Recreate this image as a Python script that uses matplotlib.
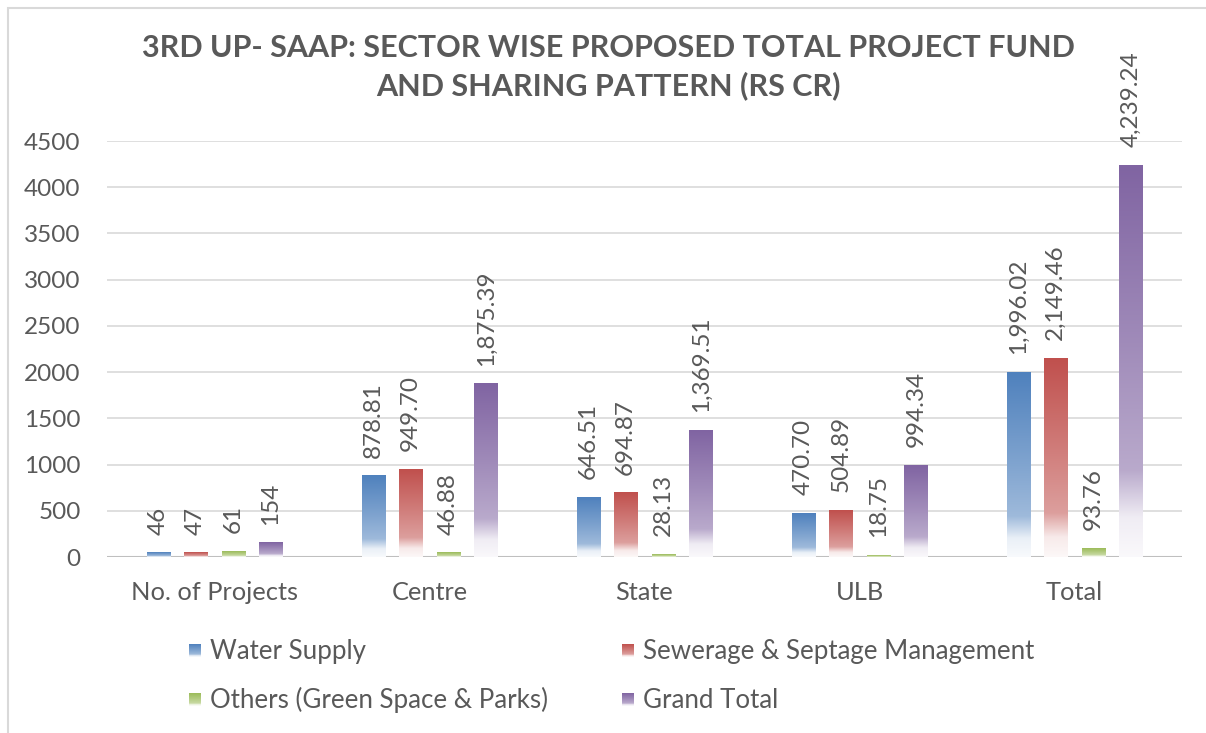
import numpy as np
import matplotlib
matplotlib.use("Agg")
import matplotlib.pyplot as plt
from matplotlib.colors import LinearSegmentedColormap, to_rgb
from matplotlib.patches import Rectangle

plt.rcParams['font.family'] = ['Lato', 'DejaVu Sans']

# ---- data ----
categories = ['No. of Projects', 'Centre', 'State', 'ULB', 'Total']
series_names = ['Water Supply', 'Sewerage & Septage Management',
                'Others (Green Space & Parks)', 'Grand Total']
water_supply = [46, 878.81, 646.51, 470.70, 1996.02]
sewerage = [47, 949.70, 694.87, 504.89, 2149.46]
others = [61, 46.88, 28.13, 18.75, 93.76]
grand_total = [154, 1875.39, 1369.51, 994.34, 4239.24]
series_values = [water_supply, sewerage, others, grand_total]
series_colors = ['#4F81BD', '#C0504D', '#9BBB59', '#8064A2']
y_ticks = [0, 500, 1000, 1500, 2000, 2500, 3000, 3500, 4000, 4500]

TEXT = '#595959'
W, H = 1206, 733


def fmt(v, is_count):
    # first category holds project counts, shown without decimals
    return f'{int(v)}' if is_count else f'{v:,.2f}'


def grad_cmap(c):
    r = np.array(to_rgb(c))
    wh = np.ones(3)
    mix = lambda t: tuple(r * (1 - t) + wh * t)
    return LinearSegmentedColormap.from_list(
        'g', [(0.0, mix(0.96)), (0.10, mix(0.88)), (0.22, mix(0.45)),
              (0.55, mix(0.25)), (1.0, mix(0.0))])


grad = np.linspace(0, 1, 256).reshape(-1, 1)

fig = plt.figure(figsize=(W / 100, H / 100), dpi=100)
fig.patch.set_facecolor('white')

# chart border (left and top edges only visible)
fig.patches.append(Rectangle((8 / W, -0.05), 1.1, 1 - 8 / H + 0.05,
                             transform=fig.transFigure, fill=False,
                             edgecolor='#D9D9D9', lw=1.5))

ax = fig.add_axes([107 / W, 1 - 557 / H, (1182 - 107) / W, (557 - 141) / H])

step = 0.175
bw = 0.107
x = np.arange(len(categories))
for i, (vals, col) in enumerate(zip(series_values, series_colors)):
    cm = grad_cmap(col)
    off = (i - 1.5) * step
    for xi, v in zip(x, vals):
        x0 = xi + off - bw / 2
        ax.imshow(grad, cmap=cm, origin='lower', aspect='auto',
                  extent=[x0, x0 + bw, 0, v], zorder=3, interpolation='bilinear')
        ax.annotate(fmt(v, xi == 0), (xi + off, v), xytext=(0, 13),
                    textcoords='offset points', rotation=90, ha='center',
                    va='bottom', fontsize=17.5, color=TEXT, annotation_clip=False)

ax.set_xlim(-0.5, len(categories) - 0.5)
ax.set_ylim(0, 4500)
ax.set_yticks(y_ticks)
ax.set_yticklabels([str(t) for t in y_ticks])
ax.set_xticks(x)
ax.set_xticklabels(categories)
ax.tick_params(axis='both', length=0, labelsize=17.5, labelcolor=TEXT)
ax.tick_params(axis='x', labelsize=18.3, pad=17)
ax.tick_params(axis='y', pad=19)
for s in ax.spines.values():
    s.set_visible(False)
ax.grid(axis='y', color='#D9D9D9', lw=1.2, zorder=0)
ax.axhline(0, color='#BFBFBF', lw=1.5, zorder=2)
ax.set_axisbelow(True)

# title
fig.text(608 / W, 1 - 67 / H,
         '3RD UP- SAAP: SECTOR WISE PROPOSED TOTAL PROJECT FUND\nAND SHARING PATTERN (RS CR)',
         ha='center', va='center', fontsize=22, fontweight='bold', color=TEXT,
         linespacing=1.35)

# legend (manual, gradient markers)
leg_pos = [(189, 651), (622, 651), (189, 700), (622, 700)]
for (lx, ly), name, col in zip(leg_pos, series_names, series_colors):
    m = fig.add_axes([lx / W, 1 - (ly + 6) / H, 12 / W, 13 / H])
    m.imshow(grad, cmap=grad_cmap(col), origin='lower', aspect='auto')
    m.axis('off')
    fig.text((lx + 21) / W, 1 - ly / H, name, ha='left', va='center',
             fontsize=18.6, color=TEXT)

fig.savefig('out.png', dpi=100)
